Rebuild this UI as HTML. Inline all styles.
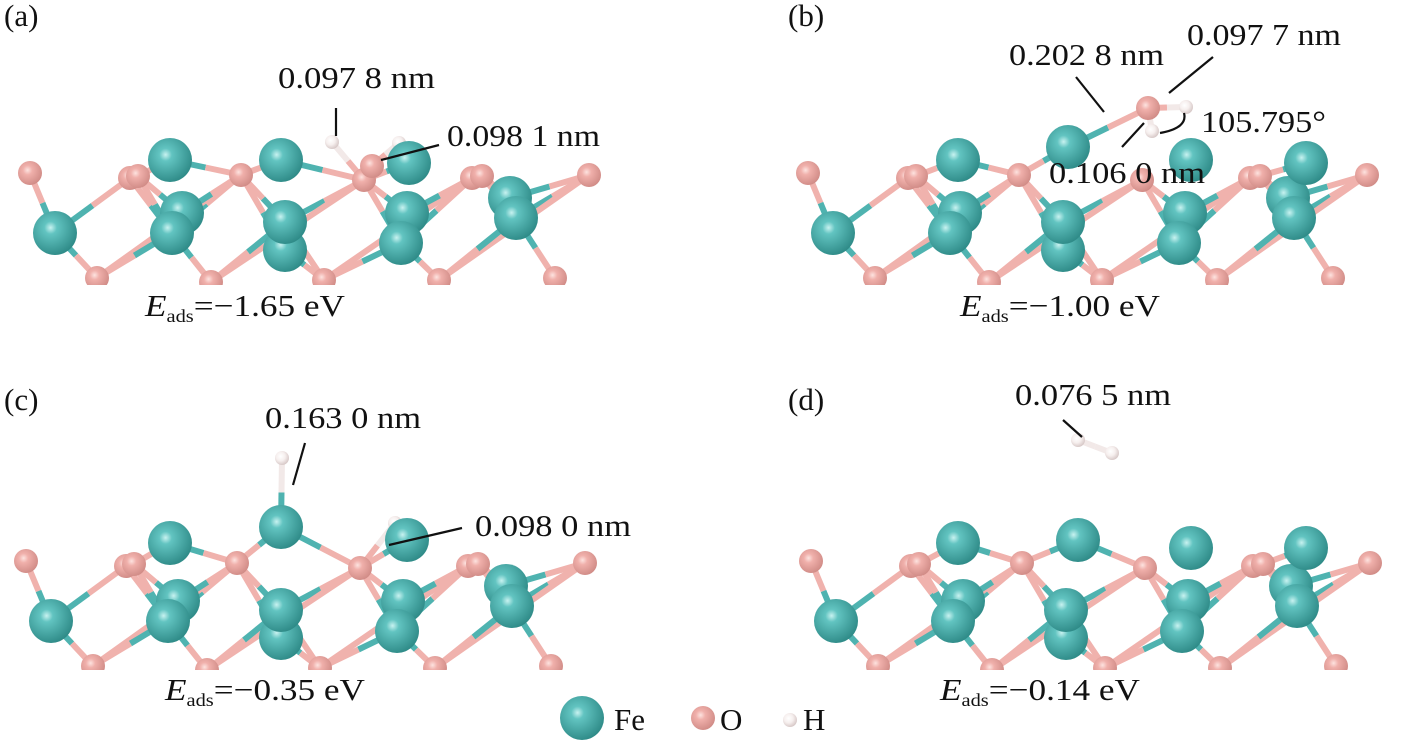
<!DOCTYPE html>
<html><head><meta charset="utf-8">
<style>
html,body{margin:0;padding:0;background:#fff;}
svg{display:block;}
text{font-family:"Liberation Serif",serif;fill:#111;}
</style></head>
<body>
<svg id="s" width="1405" height="750" viewBox="0 0 1405 750" xmlns="http://www.w3.org/2000/svg">
<defs>
<radialGradient id="gFe" cx="0.4" cy="0.38" r="0.65">
<stop offset="0" stop-color="#c8f2f0"/><stop offset="0.22" stop-color="#62c4c1"/><stop offset="1" stop-color="#2e8a87"/></radialGradient>
<radialGradient id="gO" cx="0.4" cy="0.38" r="0.65">
<stop offset="0" stop-color="#fde3e0"/><stop offset="0.3" stop-color="#f0b0ab"/><stop offset="1" stop-color="#d08b86"/></radialGradient>
<radialGradient id="gH" cx="0.4" cy="0.38" r="0.65">
<stop offset="0" stop-color="#ffffff"/><stop offset="0.5" stop-color="#f6efee"/><stop offset="1" stop-color="#d5c6c5"/></radialGradient>
<clipPath id="cl">
<rect x="0" y="0" width="1405" height="285"/>
<rect x="0" y="330" width="1405" height="340"/>
<rect x="0" y="690" width="1405" height="60"/>
</clipPath>
</defs>
<g id="mol" clip-path="url(#cl)"></g>
<g font-size="31">
<text x="4" y="26">(a)</text>
<text x="788" y="26">(b)</text>
<text x="4" y="410">(c)</text>
<text x="788" y="410">(d)</text>
<text x="278" y="88" textLength="157" lengthAdjust="spacingAndGlyphs">0.097 8 nm</text>
<text x="447" y="146" textLength="153" lengthAdjust="spacingAndGlyphs">0.098 1 nm</text>
<text x="1009" y="65" textLength="155" lengthAdjust="spacingAndGlyphs">0.202 8 nm</text>
<text x="1187" y="45" textLength="154" lengthAdjust="spacingAndGlyphs">0.097 7 nm</text>
<text x="1201" y="132" textLength="125" lengthAdjust="spacingAndGlyphs">105.795°</text>
<text x="1049" y="183" textLength="156" lengthAdjust="spacingAndGlyphs">0.106 0 nm</text>
<text x="265" y="428" textLength="156" lengthAdjust="spacingAndGlyphs">0.163 0 nm</text>
<text x="475" y="536" textLength="156" lengthAdjust="spacingAndGlyphs">0.098 0 nm</text>
<text x="1015" y="405" textLength="156" lengthAdjust="spacingAndGlyphs">0.076 5 nm</text>
<text x="145" y="316" textLength="200" lengthAdjust="spacingAndGlyphs"><tspan font-style="italic">E</tspan><tspan font-size="18" dy="6">ads</tspan><tspan dy="-6">=−1.65 eV</tspan></text>
<text x="960" y="316" textLength="200" lengthAdjust="spacingAndGlyphs"><tspan font-style="italic">E</tspan><tspan font-size="18" dy="6">ads</tspan><tspan dy="-6">=−1.00 eV</tspan></text>
<text x="165" y="700" textLength="200" lengthAdjust="spacingAndGlyphs"><tspan font-style="italic">E</tspan><tspan font-size="18" dy="6">ads</tspan><tspan dy="-6">=−0.35 eV</tspan></text>
<text x="940" y="700" textLength="200" lengthAdjust="spacingAndGlyphs"><tspan font-style="italic">E</tspan><tspan font-size="18" dy="6">ads</tspan><tspan dy="-6">=−0.14 eV</tspan></text>
<text x="614" y="730">Fe</text>
<text x="720" y="730">O</text>
<text x="803" y="730">H</text>
</g>
<g stroke="#111" stroke-width="2.2" fill="none">
<line x1="336" y1="108" x2="336" y2="136"/>
<line x1="381" y1="160" x2="439" y2="145"/>
<line x1="1076" y1="77" x2="1104" y2="112"/>
<line x1="1213" y1="57" x2="1169" y2="93"/>
<line x1="1144" y1="123" x2="1122" y2="147"/>
<path d="M1184 113 Q1188 128 1160 133"/>
<line x1="305" y1="443" x2="293" y2="485"/>
<line x1="389" y1="545" x2="462" y2="528"/>
<line x1="1063" y1="420" x2="1082" y2="437"/>
</g>
</svg>
<script>
const NS="http://www.w3.org/2000/svg";
const g=document.getElementById("mol");
const C={Fe:["#4fb3b0",22,"url(#gFe)"],O:["#f0b2ad",12,"url(#gO)"],H:["#f2e9e8",7,"url(#gH)"]};
const bonds=[],atoms=[];
function A(t,x,y){atoms.push([t,x,y]);return [t,x,y];}
function B(a,b){bonds.push([a,b]);}
function slab(ox,oy,topFe){
 const P=(t,x,y)=>A(t,x+ox,y+oy);
 const tO=[P("O",30,173),P("O",130,178),P("O",138,176),P("O",241,175),P("O",364,180),P("O",472,178),P("O",482,176),P("O",589,175)];
 const bF=[P("Fe",182,213),P("Fe",285,250),P("Fe",407,213),P("Fe",510,198)];
 const mF=[P("Fe",55,233),P("Fe",172,233),P("Fe",285,222),P("Fe",401,243),P("Fe",516,218)];
 const bO=[P("O",97,278),P("O",211,282),P("O",324,280),P("O",439,280),P("O",555,278)];
 B(tO[0],mF[0]);B(mF[0],bO[0]);B(mF[0],tO[1]);B(tO[1],mF[1]);B(tO[2],mF[1]);B(mF[1],bO[1]);
 B(mF[1],tO[3]);B(bO[0],tO[3]);B(tO[3],mF[2]);B(mF[2],bO[2]);B(mF[2],tO[4]);B(bO[1],tO[4]);
 B(tO[4],mF[3]);B(mF[3],bO[3]);B(mF[3],tO[5]);B(bO[2],tO[5]);B(tO[6],mF[4]);B(mF[4],bO[4]);
 B(mF[4],tO[7]);B(bO[3],tO[7]);B(bO[0],mF[1]);B(bO[1],mF[2]);B(bO[2],mF[3]);B(bO[3],mF[4]);
 B(bF[0],tO[2]);B(bF[0],tO[3]);B(bF[1],tO[3]);B(bF[1],bO[2]);B(bF[2],tO[4]);B(bF[2],tO[5]);B(bF[3],tO[6]);B(bF[3],tO[7]);
 topFe.forEach((f,i)=>{const a=A("Fe",f[0],f[1]);if(f[2]!==undefined){B(a,tO[f[2]]);}if(f[3]!==undefined){B(a,tO[f[3]]);}});
 return tO;
}
let t=slab(0,0,[[170,160,2,3],[281,160,3,4],[409,163,4]]);
let oa=A("O",372,166),h1=A("H",332,142),h2=A("H",399,143);
B(oa,h2);B(t[4],h1);B(oa,t[4]);
t=slab(778,0,[[958,160,2,3],[1191,160],[1306,163,6]]);
let fb=A("Fe",1068,147),ob=A("O",1148,108),hb1=A("H",1186,107),hb2=A("H",1152,131);
B(fb,ob);B(ob,hb1);B(ob,hb2);B(fb,t[3]);
t=slab(-4,388,[[170,543,2,3],[407,540,4]]);
let fc=A("Fe",281,527),hc=A("H",282,458),hc2=A("H",395,523);
B(fc,hc);B(fc,t[3]);B(fc,t[4]);B(t[4],hc2);
t=slab(781,388,[[958,543,2,3],[1078,540,3,4],[1191,548],[1306,548,6]]);
let hd1=A("H",1078,440),hd2=A("H",1112,453);B(hd1,hd2);
atoms.push(["Fe",582,718]);atoms.push(["O",703,718]);atoms.push(["H",790,720]);
function line(x1,y1,x2,y2,c,w){const l=document.createElementNS(NS,"line");
 l.setAttribute("x1",x1);l.setAttribute("y1",y1);l.setAttribute("x2",x2);l.setAttribute("y2",y2);
 l.setAttribute("stroke",c);l.setAttribute("stroke-width",w);g.appendChild(l);}
bonds.forEach(([a,b])=>{const mx=(a[1]+b[1])/2,my=(a[2]+b[2])/2;
 line(a[1],a[2],mx,my,C[a[0]][0],6);line(mx,my,b[1],b[2],C[b[0]][0],6);});
atoms.sort((p,q)=>C[p[0]][1]-C[q[0]][1]);
atoms.forEach(([tp,x,y])=>{const c=document.createElementNS(NS,"circle");c.setAttribute("cx",x);c.setAttribute("cy",y);
 c.setAttribute("r",C[tp][1]);c.setAttribute("fill",C[tp][2]);g.appendChild(c);});
</script>
</body></html>
